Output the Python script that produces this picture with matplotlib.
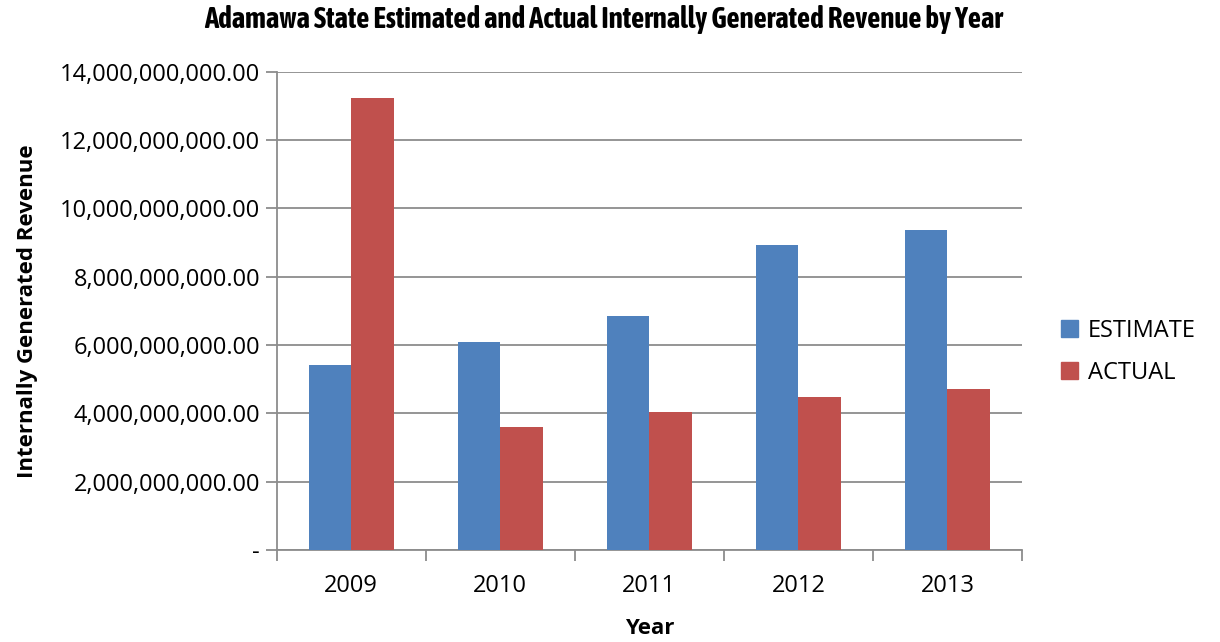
import matplotlib.pyplot as plt
import matplotlib.ticker as mticker
from matplotlib import font_manager
from matplotlib.patches import Patch
import numpy as np

# data
years = ['2009', '2010', '2011', '2012', '2013']
estimate = [5.41e9, 6.09e9, 6.85e9, 8.94e9, 9.36e9]
actual = [13.22e9, 3.59e9, 4.04e9, 4.47e9, 4.71e9]
yticks = np.arange(0, 14e9 + 1, 2e9)

BLUE = '#4f81bd'
RED = '#c0504d'
GRID = '#8c8c8c'

plt.rcParams['font.family'] = ['Open Sans', 'DejaVu Sans']

# title is in a narrow bold face (Arial Narrow look), pick the closest file around
def find_bold(keys):
    for f in font_manager.fontManager.ttflist:
        if any(k in f.name for k in keys) and f.weight in (700, 'bold') \
                and f.style == 'normal':
            return f.fname
    return None

narrow_bold = find_bold(['Liberation Sans Narrow'])
title_size = 18.5
if narrow_bold is None:
    narrow_bold = find_bold(['Narrow', 'Condensed'])
    title_size = 20.8
if narrow_bold:
    title_prop = font_manager.FontProperties(fname=narrow_bold, size=title_size)
else:
    title_prop = font_manager.FontProperties(family='Roboto', weight='bold', size=15)

fig = plt.figure(figsize=(12.2, 6.42), dpi=100)
ax = fig.add_axes([0.2268, 0.1433, 0.6109, 0.745])

x = np.arange(len(years))
w = 0.286
ax.bar(x - w / 2, estimate, w, color=BLUE, label='ESTIMATE', zorder=3)
ax.bar(x + w / 2, actual, w, color=RED, label='ACTUAL', zorder=3)

ax.set_xlim(-0.5, len(years) - 0.5)
ax.set_ylim(0, 14e9)
ax.set_yticks(yticks)
ax.yaxis.set_major_formatter(mticker.FuncFormatter(
    lambda v, p: '-' if v == 0 else f'{v:,.2f}'))
ax.yaxis.grid(True, color=GRID, linewidth=1.3, zorder=0)

ax.set_xticks(x)
ax.set_xticklabels(years)
ax.set_xticks(np.arange(-0.5, len(years)), minor=True)
ax.tick_params(axis='x', which='major', length=0, pad=17, labelsize=17)
ax.tick_params(axis='x', which='minor', length=8, color=GRID, width=1.3)
ax.tick_params(axis='y', length=8, color=GRID, width=1.3, labelsize=17, pad=4)

for s in ['top', 'right']:
    ax.spines[s].set_visible(False)
for s in ['left', 'bottom']:
    ax.spines[s].set_color(GRID)
    ax.spines[s].set_linewidth(1.3)

fig.text(650 / 1220, 1 - 628 / 642, 'Year', fontsize=16, fontweight='bold',
         ha='center', va='center')
fig.text(28 / 1220, 1 - 311 / 642, 'Internally Generated Revenue', fontsize=16,
         fontweight='bold', rotation=90, ha='center', va='center')

fig.text(604 / 1220, 1 - 20 / 642,
         'Adamawa State Estimated and Actual Internally Generated Revenue by Year',
         fontproperties=title_prop, ha='center', va='center')

handles = [Patch(color=BLUE), Patch(color=RED)]
fig.legend(handles, ['ESTIMATE', 'ACTUAL'], loc='center left',
           bbox_to_anchor=(1061 / 1220, 1 - 352 / 642), frameon=False, fontsize=17,
           borderpad=0, borderaxespad=0,
           handlelength=0.72, handleheight=0.72, handletextpad=0.42, labelspacing=0.75)

fig.savefig('out.png', dpi=100)
